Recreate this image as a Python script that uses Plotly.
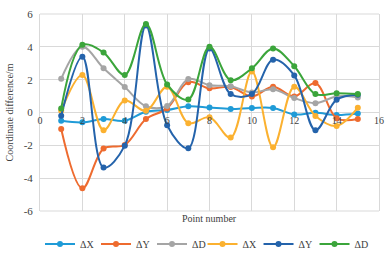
import plotly.graph_objects as go

points = list(range(1, 16))

dx1 = [-0.5, -0.6, -0.4, -0.5, 0.05, 0.15, 0.38, 0.3, 0.22, 0.28, 0.28, -0.12, -0.02, -0.15, -0.06]
dy1 = [-1.0, -4.62, -2.2, -1.98, -0.4, 0.25, 1.85, 1.47, 1.55, 0.98, 1.57, 0.98, 1.79, -0.35, -0.4]
dd1 = [2.05, 4.0, 2.69, 1.55, 0.38, 0.4, 2.04, 1.66, 1.6, 1.22, 1.41, 0.88, 0.57, 0.98, 0.92]
dx2 = [0.1, 2.29, -1.08, 0.73, 0.1, 1.57, -0.65, -0.29, -1.53, 2.49, -2.12, 1.57, -0.21, -0.82, 0.29]
dy2 = [-0.2, 3.4, -3.35, -2.02, 5.3, -0.78, -2.18, 3.9, 1.12, 1.12, 3.22, 2.26, -1.08, 0.78, 1.08]
dd2 = [0.25, 4.12, 3.65, 2.28, 5.39, 1.71, 0.79, 4.0, 1.97, 2.69, 3.9, 2.82, 1.12, 1.18, 1.12]

series_names = ["ΔX", "ΔY", "ΔD", "ΔX", "ΔY", "ΔD"]
series_values = [dx1, dy1, dd1, dx2, dy2, dd2]
series_colors = ["#1F9BD7", "#EE6B2F", "#A5A5A5", "#FBB130", "#2463AB", "#3BA53B"]
series_legends = ["legend", "legend", "legend", "legend2", "legend2", "legend2"]

x_ticks = [0, 2, 4, 6, 8, 10, 12, 14, 16]
y_ticks = [-6, -4, -2, 0, 2, 4, 6]
y_tick_labels = ["-6", "-4", "-2", "0", "2", "4", "6"]

FONT = "Liberation Serif, Times New Roman, serif"
GRID = "#D9D9D9"
TXT = "#404040"

fig = go.Figure()
for name, vals, col, lg in zip(series_names, series_values, series_colors, series_legends):
    fig.add_trace(go.Scatter(
        x=points, y=vals, name=name, mode="lines+markers",
        line=dict(color=col, width=2, shape="spline", smoothing=1),
        marker=dict(color=col, size=6),
        legend=lg,
    ))

legend_common = dict(orientation="h", y=-0.167, yanchor="middle",
                     entrywidth=11, entrywidthmode="pixels",
                     font=dict(family=FONT, size=10, color=TXT), bgcolor="rgba(0,0,0,0)")

fig.update_layout(
    width=385, height=264,
    margin=dict(l=40, r=6, t=14, b=47),
    paper_bgcolor="white", plot_bgcolor="white",
    font=dict(family=FONT, size=10, color=TXT),
    xaxis=dict(range=[0, 16], tickvals=x_ticks, showgrid=True, gridcolor=GRID, gridwidth=1,
               anchor="free", position=0.5, showline=False, zeroline=False, ticks="",
               automargin=False, ticklabeloverflow="allow",
               tickfont=dict(family=FONT, size=10, color=TXT)),
    yaxis=dict(range=[-6, 6], tickvals=y_ticks, ticktext=y_tick_labels, showgrid=True,
               gridcolor=GRID, gridwidth=1, zeroline=True, zerolinecolor=GRID, zerolinewidth=1,
               showline=True, mirror=True, linecolor=GRID, linewidth=1, ticks="",
               ticklabelstandoff=4, automargin=False,
               tickfont=dict(family=FONT, size=11, color=TXT),
               title=dict(text="Coordinate difference/m", font=dict(family=FONT, size=10, color=TXT), standoff=8)),
    legend=dict(x=0.0, xanchor="left", **legend_common),
    legend2=dict(x=0.975, xanchor="right", **legend_common),
    showlegend=True,
)
fig.add_annotation(text="Point number", xref="paper", yref="paper", x=0.5, y=-0.04,
                   xanchor="center", yanchor="middle", showarrow=False,
                   font=dict(family=FONT, size=10, color=TXT))
fig.add_shape(type="line", xref="paper", yref="paper", x0=0, x1=1, y0=1, y1=1,
              line=dict(color=GRID, width=1), layer="below")
fig.add_shape(type="line", xref="paper", yref="paper", x0=0, x1=1, y0=0, y1=0,
              line=dict(color=GRID, width=1), layer="below")

# remove the default page margin so the 385x264 figure fills the window exactly
fig.write_html("out.html",
               config={"displayModeBar": False},
               post_script="document.body.style.margin='0';document.body.style.overflow='hidden';")
